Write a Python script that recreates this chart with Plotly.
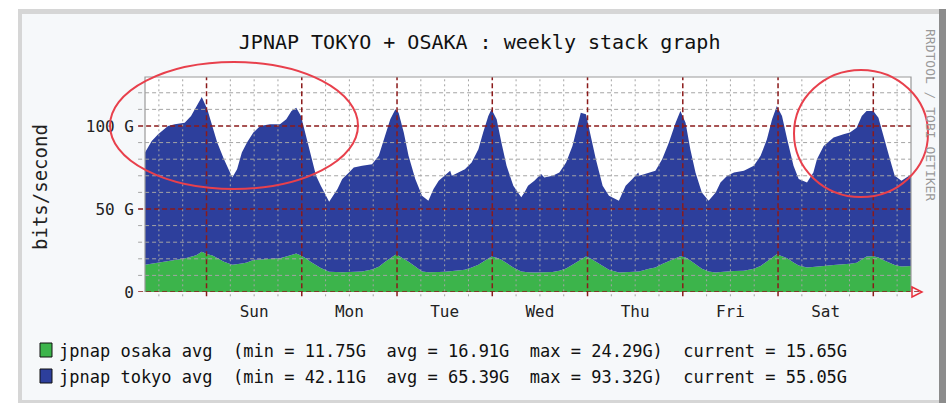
import plotly.graph_objects as go

# hours relative to Sunday 00:00 (graph runs Sat 08:30 -> next Sun 09:30)
hours = [-15.5, -13.8, -12.2, -9.7, -8.0, -5.5, -3.9, -2.6, -1.2, 0.2, 1.5, 2.7, 4.4, 6.5, 7.7, 8.9,
         10.2, 11.8, 13.5, 16.0, 18.5, 20.1, 21.4, 22.6, 23.8, 25.1, 26.3, 27.6, 28.8, 30.9, 33.0,
         34.2, 35.9, 37.1, 39.2, 41.7, 43.4, 45.1, 46.3, 47.6, 48.4, 49.7, 50.9, 52.6, 54.3, 55.9,
         57.2, 58.5, 60.1, 61.4, 61.8, 63.5, 65.1, 66.8, 68.5, 69.7, 71.0, 71.8, 73.1, 74.3, 75.6,
         77.3, 79.3, 80.1, 81.0, 82.6, 84.3, 85.1, 87.2, 88.9, 90.6, 92.2, 93.5, 94.3, 95.6, 96.8,
         98.1, 99.8, 101.4, 103.9, 105.6, 107.3, 108.8, 109.0, 111.5, 113.1, 114.8, 116.5, 118.2,
         119.4, 120.7, 121.9, 123.2, 124.8, 126.5, 128.3, 129.5, 131.2, 132.9, 135.4, 137.9, 139.6,
         141.2, 142.5, 143.7, 145.0, 146.3, 147.9, 149.2, 151.3, 152.9, 153.8, 155.5, 158.0, 160.5,
         162.1, 163.8, 165.1, 166.3, 168.0, 169.3, 170.5, 172.2, 173.4, 175.1, 177.5]

# Gbit/s
osaka = [16.4, 17.0, 17.6, 18.2, 19.2, 20.2, 21.2, 22.2, 24.3, 22.8, 22.0, 20.4, 18.2, 16.4, 16.6, 17.2,
         17.8, 19.2, 19.6, 20.0, 20.4, 21.4, 22.4, 23.2, 22.0, 20.2, 18.0, 16.0, 14.4, 12.2, 11.8,
         11.9, 12.0, 12.1, 12.3, 13.6, 15.2, 18.4, 20.2, 22.4, 21.8, 20.0, 18.2, 15.4, 12.4, 11.9,
         11.8, 12.0, 12.2, 12.5, 12.5, 13.0, 13.4, 14.8, 16.4, 18.2, 20.4, 21.4, 20.6, 19.4, 17.4,
         14.8, 12.4, 12.0, 11.9, 11.8, 11.9, 11.9, 12.0, 12.8, 14.2, 16.4, 18.4, 19.6, 21.4, 20.2,
         18.4, 15.8, 13.4, 11.8, 12.0, 12.2, 12.4, 12.4, 14.0, 14.8, 16.8, 18.8, 20.4,
         21.6, 20.8, 19.0, 16.6, 14.0, 12.4, 11.8, 12.0, 12.4, 12.6, 12.8, 14.0, 15.6,
         18.4, 20.6, 22.8, 21.6, 20.4, 17.8, 16.0, 14.8, 15.0, 15.2, 15.6, 16.2, 16.6,
         17.0, 17.6, 19.8, 21.4, 21.6, 20.8, 19.2, 17.4, 16.2, 15.4, 15.65]

tokyo = [67.6, 74.0, 77.4, 81.8, 81.8, 81.8, 84.8, 89.8, 93.2, 87.2, 78.0, 69.6, 61.8, 52.6, 57.4, 66.8,
         72.2, 76.8, 80.4, 81.0, 80.6, 82.6, 86.6, 87.8, 84.0, 73.8, 64.0, 54.0, 49.6, 42.1, 50.2,
         56.1, 60.0, 62.9, 63.7, 63.4, 66.8, 76.6, 83.8, 87.6, 86.2, 76.0, 63.8, 52.6, 45.6, 43.1,
         50.2, 55.0, 57.8, 60.5, 57.5, 59.0, 60.6, 63.2, 69.6, 77.8, 85.6, 88.6, 83.4, 70.6, 58.6,
         49.2, 44.6, 48.0, 52.1, 55.2, 59.1, 57.1, 58.0, 59.2, 63.8, 71.6, 81.6, 88.4, 85.6, 73.8,
         61.6, 48.2, 44.6, 43.2, 52.0, 55.8, 59.6, 57.6, 58.0, 58.2, 63.2, 71.2, 81.6,
         87.4, 81.2, 67.0, 55.4, 46.0, 42.6, 48.2, 54.0, 57.6, 59.4, 60.2, 62.0, 66.4,
         73.6, 83.4, 89.2, 84.4, 71.6, 58.2, 52.0, 51.2, 57.0, 64.8, 72.4, 76.8, 78.4,
         79.0, 81.4, 86.2, 87.6, 87.4, 84.2, 74.8, 62.6, 53.8, 51.6, 55.05]

days = ["Sun", "Mon", "Tue", "Wed", "Thu", "Fri", "Sat"]
y_ticks = [0, 50, 100]
y_labels = ["0", "50 G", "100 G"]

series_names = ["jpnap osaka avg", "jpnap tokyo avg"]
osaka_stats = ["11.75G", "16.91G", "24.29G", "15.65G"]
tokyo_stats = ["42.11G", "65.39G", "93.32G", "55.05G"]

GREEN = "#3cb44b"
BLUE = "#2d3f9c"
MAJOR = "#8b1a1a"
MINOR = "#a4a4a4"
MONO = "DejaVu Sans Mono"

W, H = 946, 404
L, R, T, B = 145, 35, 77, 112
PW, PH = W - L - R, H - T - B


def fx(p):
    return (p - L) / PW


def fy(p):
    return (H - B - p) / PH


fig = go.Figure()
fig.add_trace(go.Scatter(x=hours, y=osaka, name=series_names[0], mode="lines",
                         stackgroup="one", line=dict(width=0), fillcolor=GREEN))
fig.add_trace(go.Scatter(x=hours, y=tokyo, name=series_names[1], mode="lines",
                         stackgroup="one", line=dict(width=0), fillcolor=BLUE))

shapes = []
# frame / canvas
shapes.append(dict(type="rect", xref="paper", yref="paper", x0=fx(18), x1=fx(946), y0=fy(403), y1=fy(9),
                   fillcolor="#d6d6d6", line_width=0, layer="below"))
shapes.append(dict(type="rect", xref="paper", yref="paper", x0=fx(939), x1=fx(946), y0=fy(403), y1=fy(9),
                   fillcolor="#8c8c8c", line_width=0, layer="below"))
shapes.append(dict(type="rect", xref="paper", yref="paper", x0=fx(22), x1=fx(939), y0=fy(400), y1=fy(14),
                   fillcolor="#f6f8fa", line_width=0, layer="below"))
shapes.append(dict(type="rect", xref="paper", yref="paper", x0=0, x1=1, y0=0, y1=1,
                   fillcolor="white", line_width=0, layer="below"))

# horizontal grid (drawn over the data like rrdtool does)
for v in range(0, 130, 10):
    major = v % 50 == 0
    shapes.append(dict(type="line", xref="paper", yref="y", x0=-0.009, x1=1.012 if v == 0 else 1,
                       y0=v, y1=v, layer="above",
                       line=dict(color=MAJOR if major else MINOR, width=1.5 if major else 1,
                                 dash="5px,3px" if major else "4px,3px")))
# vertical grid
for h in range(-12, 178, 6):
    major = h % 24 == 0
    shapes.append(dict(type="line", xref="x", yref="paper", x0=h, x1=h, y0=-0.02, y1=1, layer="above",
                       line=dict(color=MAJOR if major else MINOR, width=1.5 if major else 1,
                                 dash="5px,3px" if major else "2px,3px")))

# plot border
shapes.append(dict(type="path", xref="paper", yref="paper", path="M 0,0 L 0,1 L 1,1 L 1,0",
                   line=dict(color="#9a9a9a", width=1.2), layer="above"))
# x axis arrow
shapes.append(dict(type="path", xref="paper", yref="paper",
                   path=f"M {fx(912)},{fy(287)} L {fx(922)},{fy(292)} L {fx(912)},{fy(297)} Z",
                   line=dict(color="#e8303c", width=1.5), layer="above"))

# red highlight ellipses
shapes.append(dict(type="circle", xref="paper", yref="paper", x0=fx(110), x1=fx(358), y0=fy(189), y1=fy(62),
                   line=dict(color="#e8404c", width=2), layer="above"))
shapes.append(dict(type="circle", xref="paper", yref="paper", x0=fx(794), x1=fx(928), y0=fy(197), y1=fy(70),
                   line=dict(color="#e8404c", width=2), layer="above"))

# legend boxes
for i, col in enumerate([GREEN, BLUE]):
    top = 343 + 26 * i
    shapes.append(dict(type="rect", xref="paper", yref="paper", x0=fx(40), x1=fx(52), y0=fy(top + 14),
                       y1=fy(top), fillcolor=col, line=dict(color="#111", width=1)))

annotations = []
for i, (name, st) in enumerate([(series_names[0], osaka_stats), (series_names[1], tokyo_stats)]):
    txt = f"{name}  (min = {st[0]}  avg = {st[1]}  max = {st[2]})  current = {st[3]}"
    annotations.append(dict(text=txt.replace("  ", " \u00a0"), xref="paper", yref="paper",
                            x=fx(57), y=fy(351 + 26 * i), xanchor="left", yanchor="middle",
                            showarrow=False, font=dict(family=MONO, size=17, color="#111")))
annotations.append(dict(text="bits/second", xref="paper", yref="paper", x=fx(40), y=fy(187),
                        xanchor="center", yanchor="middle",
                        textangle=-90, showarrow=False, font=dict(family=MONO, size=19, color="#222")))
annotations.append(dict(text="RRDTOOL / TOBI OETIKER", xref="paper", yref="paper", x=fx(931), y=fy(115),
                        xanchor="center", yanchor="middle",
                        textangle=90, showarrow=False, font=dict(family=MONO, size=13, color="#999")))

fig.update_layout(
    width=W, height=H,
    margin=dict(l=L, r=R, t=T, b=B),
    paper_bgcolor="white",
    plot_bgcolor="white",
    showlegend=False,
    title=dict(text="JPNAP TOKYO + OSAKA : weekly stack graph", x=0.507, xref="container",
               y=1 - 42 / H, yref="container", xanchor="center", yanchor="middle",
               font=dict(family=MONO, size=20, color="#111")),
    xaxis=dict(range=[-15.5, 177.5], tickvals=[12 + 24 * i for i in range(7)], ticktext=days,
               showgrid=False, zeroline=False, ticks="", ticklabelstandoff=8,
               tickfont=dict(family=MONO, size=16, color="#222")),
    yaxis=dict(range=[0, 129.5], tickvals=y_ticks, ticktext=y_labels, showgrid=False, zeroline=False,
               ticks="", ticklabelstandoff=10, tickfont=dict(family=MONO, size=16, color="#222")),
    shapes=shapes,
    annotations=annotations,
)

fig.write_html("out.html", config={"displayModeBar": False},
               post_script="document.body.style.margin='0';document.body.style.overflow='hidden';")
